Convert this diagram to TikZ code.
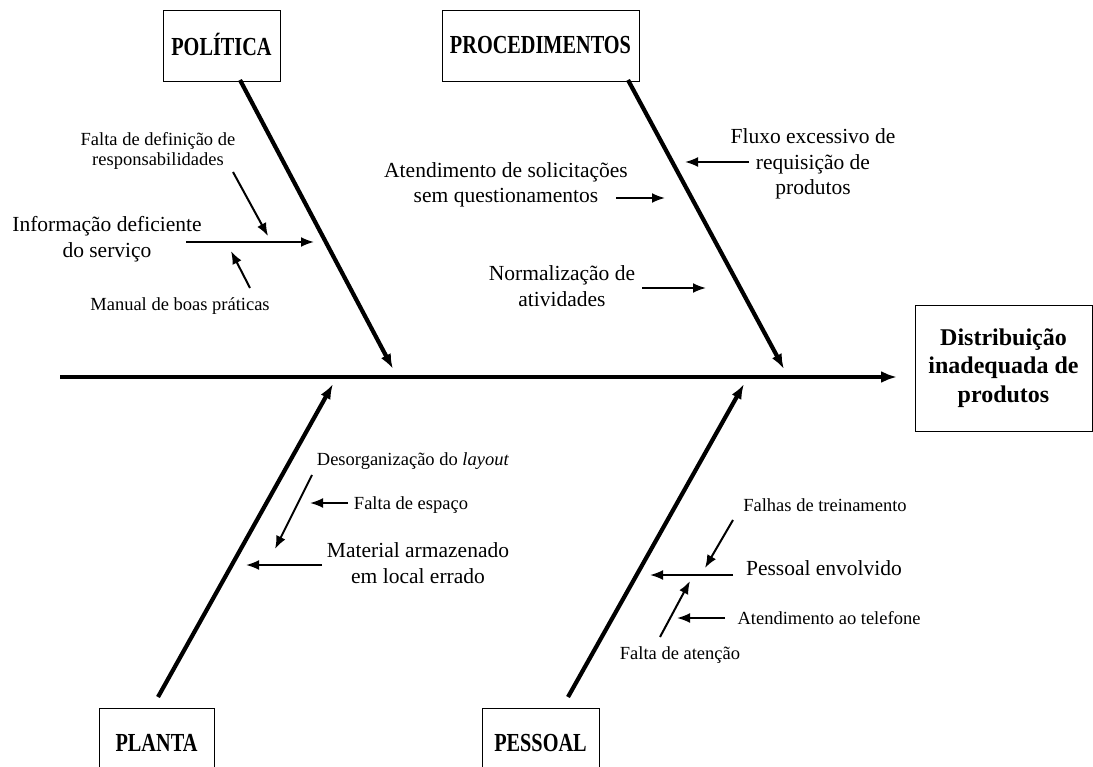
\documentclass[tikz,border=0pt]{standalone}
\usepackage{fontspec}
\setmainfont{Liberation Serif}
\newfontfamily\hdfont[FakeStretch=0.78]{Liberation Serif}
\usetikzlibrary{arrows.meta}
\tikzset{
  bigtxt/.style={font=\fontsize{21.5}{25.5}\selectfont, align=center, inner sep=0pt},
  smalltxt/.style={font=\fontsize{18.5}{20.5}\selectfont, align=center, inner sep=0pt},
  header/.style={draw, line width=0.9pt, font=\hdfont\bfseries\fontsize{26}{30}\selectfont, inner sep=0pt},
  effectbox/.style={draw, line width=0.9pt, font=\bfseries\fontsize{24}{28.5}\selectfont, align=center, inner sep=0pt},
  spine/.style={line width=4pt, -{Latex[length=16pt,width=12pt]}},
  bone/.style={line width=4.2pt, -{Latex[length=15pt,width=11pt]}},
  cause/.style={line width=2pt, -{Latex[length=13pt,width=10pt]}}
}
\begin{document}
\begin{tikzpicture}[x=1pt,y=-1pt]
\useasboundingbox (0,0) rectangle (1093,767);

% category boxes
\node[header, minimum width=117pt, minimum height=71pt] (pol) at (221.5,45.5) {\raisebox{2pt}{POLÍTICA}};
\node[header, minimum width=197pt, minimum height=71pt] (proc) at (540.5,45.5) {\raisebox{2pt}{PROCEDIMENTOS}};
\node[header, minimum width=115pt, minimum height=74pt] (plan) at (156.5,745) {\raisebox{4pt}{PLANTA}};
\node[header, minimum width=117pt, minimum height=74pt] (pes) at (540.5,745) {\raisebox{4pt}{PESSOAL}};

% effect box
\node[effectbox, minimum width=177pt, minimum height=126pt] (eff) at (1003.5,368) {Distribuição\\inadequada de\\produtos};

% spine and main bones
\coordinate (spA) at (60,377);
\coordinate (spB) at (897,377);
\draw[spine] (spA) -- (spB);

\coordinate (polA) at (240,80);
\coordinate (polB) at (393,369);
\draw[bone] (polA) -- (polB);

\coordinate (procA) at (628,80);
\coordinate (procB) at (784,369);
\draw[bone] (procA) -- (procB);

\coordinate (planA) at (158,697);
\coordinate (planB) at (333,384);
\draw[bone] (planA) -- (planB);

\coordinate (pesA) at (568,697);
\coordinate (pesB) at (744,384);
\draw[bone] (pesA) -- (pesB);

% POLITICA causes
\node[smalltxt] (t1) at (158,151) {Falta de definição de\\responsabilidades};
\node[bigtxt] (t2) at (107,239) {Informação deficiente\\do serviço};
\node[smalltxt] (t3) at (180,306) {Manual de boas práticas};
\coordinate (a2s) at (186,242); \coordinate (a2e) at (314,242);
\draw[cause] (a2s) -- (a2e);
\coordinate (a1s) at (233,172); \coordinate (a1e) at (268,236);
\draw[cause] (a1s) -- (a1e);
\coordinate (a3s) at (250,288); \coordinate (a3e) at (231,251);
\draw[cause] (a3s) -- (a3e);

% PROCEDIMENTOS causes
\node[bigtxt] (t4) at (506,185) {Atendimento de solicitações\\sem questionamentos};
\node[bigtxt] (t5) at (813,164) {Fluxo excessivo de\\requisição de\\produtos};
\node[bigtxt] (t6) at (562,286) {Normalização de\\atividades};
\coordinate (a4s) at (616,198); \coordinate (a4e) at (665,198);
\draw[cause] (a4s) -- (a4e);
\coordinate (a5s) at (749,162); \coordinate (a5e) at (685,162);
\draw[cause] (a5s) -- (a5e);
\coordinate (a6s) at (642,288); \coordinate (a6e) at (706,288);
\draw[cause] (a6s) -- (a6e);

% PLANTA causes
\node[smalltxt] (t7) at (413,461) {Desorganização do \textit{layout}};
\node[smalltxt] (t8) at (411,505) {Falta de espaço};
\node[bigtxt] (t9) at (418,563) {Material armazenado\\em local errado};
\coordinate (a7s) at (312,475); \coordinate (a7e) at (275,549);
\draw[cause] (a7s) -- (a7e);
\coordinate (a8s) at (348,503); \coordinate (a8e) at (310,503);
\draw[cause] (a8s) -- (a8e);
\coordinate (a9s) at (322,565); \coordinate (a9e) at (246,565);
\draw[cause] (a9s) -- (a9e);

% PESSOAL causes
\node[smalltxt] (t10) at (825,505) {Falhas de treinamento};
\node[bigtxt] (t11) at (824,568) {Pessoal envolvido};
\node[smalltxt] (t12) at (829,618) {Atendimento ao telefone};
\node[smalltxt] (t13) at (680,655) {Falta de atenção};
\coordinate (a10s) at (733,520); \coordinate (a10e) at (705,568);
\draw[cause] (a10s) -- (a10e);
\coordinate (a11s) at (733,575); \coordinate (a11e) at (650,575);
\draw[cause] (a11s) -- (a11e);
\coordinate (a12s) at (725,618); \coordinate (a12e) at (677,618);
\draw[cause] (a12s) -- (a12e);
\coordinate (a13s) at (660,637); \coordinate (a13e) at (690,581);
\draw[cause] (a13s) -- (a13e);
\end{tikzpicture}
\end{document}
